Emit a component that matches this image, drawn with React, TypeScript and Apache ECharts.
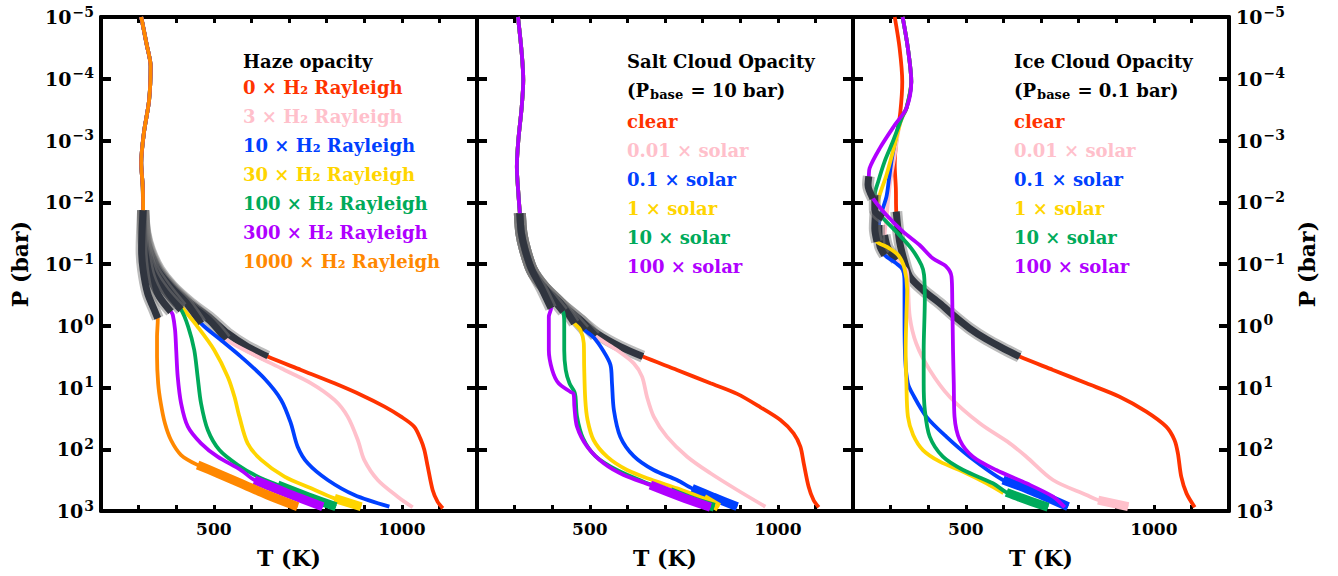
import React, { useEffect, useRef } from 'react';
import * as echarts from 'echarts';

type Pt = [number, number];

// ---------- Panel 1: haze opacity (T [K], P [bar]) ----------
const HAZE_UPPER: Pt[] = [[307, 1e-5], [321, 2.7e-5], [332, 6.3e-5], [328, 2.2e-4], [314, 7.6e-4], [307, 2.3e-3], [311, 5.6e-3], [312, 0.0135]];
const HAZE_0X: Pt[] = [[318, 0.0316], [330, 0.0593], [355, 0.125], [390, 0.233], [439, 0.434], [492, 0.759], [537, 1.33], [590, 2.18], [643, 3.16], [732, 5.2], [821, 8.55], [892, 13.2], [954, 20.4], [998, 29.6], [1033, 43.1], [1051, 70.8], [1060, 103], [1069, 191], [1082, 457], [1095, 706], [1109, 906]];
const HAZE_3X: Pt[] = [[317, 0.0316], [328, 0.0593], [352, 0.126], [392, 0.251], [440, 0.468], [490, 0.832], [532, 1.66], [599, 2.79], [679, 4.89], [759, 8.55], [821, 15.9], [856, 29.6], [883, 70.8], [900, 149], [936, 315], [989, 586], [1029, 871]];
const HAZE_10X: Pt[] = [[316, 0.0316], [325, 0.0593], [350, 0.126], [390, 0.251], [430, 0.447], [466, 0.914], [519, 1.7], [572, 3.16], [634, 7.1], [679, 15.9], [705, 38.0], [723, 90.8], [750, 169], [803, 315], [874, 551], [967, 851]];
const HAZE_30X: Pt[] = [[315, 0.0316], [322, 0.0593], [342, 0.126], [375, 0.251], [415, 0.502], [457, 1.04], [501, 2.47], [537, 6.67], [555, 14.1], [568, 29.6], [590, 80.2], [626, 149], [688, 278], [759, 430], [821, 624], [892, 851]];
const HAZE_100X: Pt[] = [[314, 0.0316], [320, 0.0593], [338, 0.141], [370, 0.282], [413, 0.55], [432, 1.04], [448, 2.47], [457, 6.67], [466, 18.0], [484, 48.8], [515, 103], [564, 180], [617, 278], [670, 379], [750, 586], [825, 851]];
const HAZE_300X: Pt[] = [[312, 0.0316], [316, 0.0593], [330, 0.16], [355, 0.338], [386, 0.592], [391, 0.67], [397, 1.17], [400, 2.47], [404, 6.67], [413, 18.0], [431, 43.1], [466, 80.2], [510, 132], [572, 217], [608, 315], [696, 518], [790, 851]];
const HAZE_1000X: Pt[] = [[309, 0.0316], [308, 0.0593], [312, 0.125], [324, 0.298], [342, 0.556], [351, 0.759], [351, 0.81], [349, 1.5], [349, 3.16], [352, 8.55], [359, 18.0], [370, 38.0], [386, 70.8], [413, 124], [457, 180], [510, 245], [572, 356], [643, 551], [723, 851]];
// convective (gray) pressure ranges and start of deep thick segment
const HAZE_GRAY_TOP = 0.0135;
const HAZE_GRAY_BOTTOM = [3.16, 1.66, 0.914, 0.502, 0.55, 0.592, 0.759];
const HAZE_THICK_FROM = [null, null, null, 624, 379, 315, 180];
const HAZE_TITLE = 'Haze opacity';
const HAZE_LABELS = ['0 × H₂ Rayleigh', '3 × H₂ Rayleigh', '10 × H₂ Rayleigh', '30 × H₂ Rayleigh', '100 × H₂ Rayleigh', '300 × H₂ Rayleigh', '1000 × H₂ Rayleigh'];

// ---------- Panel 2: salt clouds ----------
const SALT_UPPER: Pt[] = [[309, 1e-5], [319, 3.87e-5], [323, 1.05e-4], [319, 2.82e-4], [310, 9.8e-4], [306, 2.65e-3], [310, 7.2e-3], [314, 0.0151]];
const SALT_CLEAR: Pt[] = [[318, 0.0316], [328, 0.0593], [346, 0.125], [377, 0.233], [422, 0.434], [475, 0.807], [519, 1.33], [581, 2.18], [641, 3.16], [732, 5.2], [821, 8.55], [892, 12.7], [954, 20.9], [1007, 33.6], [1042, 55.2], [1060, 90.8], [1069, 169], [1082, 404], [1095, 664], [1109, 871]];
const SALT_001: Pt[] = [[318, 0.0316], [328, 0.0593], [346, 0.125], [377, 0.233], [422, 0.434], [475, 0.807], [515, 1.47], [572, 2.47], [617, 4.06], [639, 6.67], [652, 14.1], [670, 29.6], [705, 62.5], [759, 132], [821, 245], [892, 457], [967, 851]];
const SALT_01: Pt[] = [[318, 0.0316], [328, 0.0593], [346, 0.125], [377, 0.233], [422, 0.434], [486, 1.17], [510, 1.54], [537, 2.62], [555, 4.32], [559, 8.55], [564, 23.1], [581, 62.5], [617, 129], [670, 217], [732, 315], [772, 430], [829, 600], [892, 851]];
const SALT_1: Pt[] = [[318, 0.0316], [328, 0.0593], [346, 0.125], [377, 0.233], [422, 0.434], [459, 0.914], [475, 1.17], [484, 1.92], [485, 4.59], [488, 15.9], [494, 33.6], [510, 70.8], [546, 132], [599, 217], [661, 307], [732, 430], [803, 624], [843, 871]];
const SALT_10: Pt[] = [[318, 0.0316], [328, 0.0593], [346, 0.125], [377, 0.233], [429, 0.592], [432, 0.914], [432, 2.47], [436, 5.2], [446, 8.55], [459, 11.7], [462, 14.1], [466, 29.6], [482, 66.5], [515, 129], [572, 217], [643, 335], [714, 486], [776, 679], [831, 871]];
const SALT_100: Pt[] = [[318, 0.0316], [328, 0.0593], [346, 0.125], [372, 0.25], [397, 0.522], [391, 0.713], [391, 2.47], [400, 5.2], [417, 8.55], [448, 11.7], [457, 12.7], [459, 20.4], [466, 43.1], [493, 90.8], [537, 169], [590, 261], [661, 379], [741, 586], [821, 871]];
const SALT_GRAY_TOP = 0.0151;
const SALT_GRAY_BOTTOM = [3.16, 1.47, 1.17, 0.914, 0.592, 0.522];
const SALT_THICK_FROM = [null, null, 430, 624, 486, 379];
const SALT_TITLE = 'Salt Cloud Opacity';
const SALT_PBASE = '10 bar';
const CLOUD_LABELS = ['clear', '0.01 × solar', '0.1 × solar', '1 × solar', '10 × solar', '100 × solar'];

// ---------- Panel 3: ice clouds ----------
const ICE_CLEAR: Pt[] = [[311, 1e-5], [324, 3.22e-5], [331, 1.12e-4], [326, 3.41e-4], [315, 1.04e-3], [311, 2.49e-3], [314, 5.96e-3], [315, 0.0142], [324, 0.0435], [337, 0.0918], [351, 0.16], [386, 0.264], [431, 0.434], [466, 0.67], [510, 1.1], [555, 1.66], [599, 2.32], [643, 3.16], [732, 5.2], [821, 8.55], [909, 14.1], [980, 24.6], [1033, 43.1], [1055, 70.8], [1064, 116], [1073, 278], [1087, 518], [1109, 871]];
const ICE_UPPER: Pt[] = [[332, 1e-5], [346, 3.22e-5], [355, 1.12e-4], [342, 3.02e-4]];
const ICE_001: Pt[] = [[324, 5.61e-4], [311, 1.72e-3], [299, 4.65e-3], [293, 9.8e-3], [289, 0.0182], [284, 0.034], [293, 0.0558], [315, 0.0863], [342, 0.125], [346, 0.206], [351, 0.713], [368, 1.92], [404, 5.2], [457, 14.1], [537, 38.0], [617, 80.2], [661, 132], [732, 315], [821, 551], [852, 664], [932, 851]];
const ICE_01: Pt[] = [[324, 4.95e-4], [305, 1.72e-3], [296, 4.1e-3], [289, 8.13e-3], [278, 0.0134], [269, 0.0234], [271, 0.0493], [284, 0.0716], [315, 0.0977], [333, 0.125], [337, 0.206], [337, 0.713], [339, 3.58], [346, 8.55], [360, 13.2], [395, 29.6], [448, 62.5], [510, 132], [599, 315], [670, 457], [772, 851]];
const ICE_1: Pt[] = [[329, 4.38e-4], [306, 1.52e-3], [289, 3.62e-3], [271, 7.64e-3], [260, 0.0142], [258, 0.0265], [264, 0.0436], [289, 0.0525], [320, 0.0716], [337, 0.118], [344, 0.264], [342, 0.713], [340, 2.47], [342, 8.55], [346, 29.6], [360, 58.7], [386, 103], [431, 159], [493, 231], [555, 356], [600, 513]];
const ICE_10: Pt[] = [[333, 3.86e-4], [306, 1.04e-3], [284, 2.2e-3], [267, 4.65e-3], [258, 7.64e-3], [258, 0.0134], [280, 0.0182], [315, 0.03], [355, 0.0558], [382, 0.104], [389, 0.151], [391, 0.383], [388, 2.47], [388, 8.55], [391, 23.1], [404, 62.5], [439, 132], [493, 217], [572, 356], [608, 500], [643, 600], [719, 871]];
const ICE_100: Pt[] = [[311, 5.62e-4], [271, 1.34e-3], [244, 2.82e-3], [242, 3.8e-3], [240, 5.26e-3], [253, 8.65e-3], [289, 0.0161], [333, 0.03], [377, 0.0493], [412, 0.081], [448, 0.11], [462, 0.16], [464, 0.383], [466, 2.47], [468, 8.55], [470, 29.6], [484, 70.8], [519, 132], [581, 217], [661, 356], [732, 586], [763, 871]];
const ICE_GRAY: [number, number][] = [[0.0142, 3.16], [0.034, 0.0863], [0.0234, 0.0716], [0.0142, 0.0436], [7.64e-3, 0.0182], [3.8e-3, 8.65e-3]];
const ICE_THICK_FROM = [null, 664, 315, null, 500, null];
const ICE_TITLE = 'Ice Cloud Opacity';
const ICE_PBASE = '0.1 bar';

const X_TICKS_LABELED = [500, 1000];

// ---------- styles ----------
const FONT = "'DejaVu Serif', serif";
const COL = ['#ff3300', '#ffc0cb', '#0040ff', '#ffd500', '#00aa5a', '#b000ff', '#ff8800'];
const GRID_LEFT = 101;
const GRID_W = 376;
const GRID_TOP = 17;
const GRID_H = 494;

type Curve = { color: string; pts: Pt[]; gray: [number, number]; thick: number | null };

function buildCurves(): Curve[][] {
  const haze = [HAZE_0X, HAZE_3X, HAZE_10X, HAZE_30X, HAZE_100X, HAZE_300X, HAZE_1000X].map((lw, i) => ({
    color: COL[i], pts: HAZE_UPPER.concat(lw), gray: [HAZE_GRAY_TOP, HAZE_GRAY_BOTTOM[i]] as [number, number], thick: HAZE_THICK_FROM[i],
  }));
  const salt = [SALT_CLEAR, SALT_001, SALT_01, SALT_1, SALT_10, SALT_100].map((lw, i) => ({
    color: COL[i], pts: SALT_UPPER.concat(lw), gray: [SALT_GRAY_TOP, SALT_GRAY_BOTTOM[i]] as [number, number], thick: SALT_THICK_FROM[i],
  }));
  const ice = [ICE_CLEAR, ICE_001, ICE_01, ICE_1, ICE_10, ICE_100].map((lw, i) => ({
    color: COL[i], pts: i === 0 ? lw : ICE_UPPER.concat(lw), gray: ICE_GRAY[i], thick: ICE_THICK_FROM[i],
  }));
  return [haze, salt, ice];
}

function yLabel(v: number) {
  const e = Math.round(Math.log10(v));
  return `{b|10}{s|${e < 0 ? '\u2212' + -e : String(e)}}`;
}

const Y_RICH = {
  b: { fontFamily: FONT, fontWeight: 'bold', fontSize: 19, color: '#000' },
  s: { fontFamily: FONT, fontWeight: 'bold', fontSize: 14, color: '#000', padding: [0, 0, 11, 1] },
};

function legendItem(x: number, y: number, text: string, color: string) {
  return {
    type: 'text', x, y, silent: true,
    style: { text, fill: color, fontFamily: FONT, fontWeight: 'bold', fontSize: 18, verticalAlign: 'middle', align: 'left' },
  };
}

function pbaseItem(x: number, y: number, val: string) {
  const tok = { fontFamily: FONT, fontWeight: 'bold', fontSize: 18, fill: '#000' };
  return {
    type: 'text', x, y, silent: true,
    style: {
      text: `{t|(P}{sub|base}{t| = ${val})}`, fill: '#000', verticalAlign: 'middle', align: 'left',
      rich: { t: tok, sub: { ...tok, fontSize: 13, padding: [9, 1, 0, 1] } },
    },
  };
}

function buildOption() {
  const panels = buildCurves();
  const grid: any[] = [];
  const xAxis: any[] = [];
  const yAxis: any[] = [];
  const series: any[] = [];
  const lineAx = { show: true, onZero: false, lineStyle: { color: '#000', width: 4 } };
  panels.forEach((curves, p) => {
    grid.push({ left: GRID_LEFT + p * GRID_W, top: GRID_TOP, width: GRID_W, height: GRID_H, containLabel: false });
    ['bottom', 'top'].forEach((pos) => {
      xAxis.push({
        type: 'value', gridIndex: p, position: pos, min: 200, max: 1200, interval: 100,
        axisLine: lineAx, splitLine: { show: false },
        axisTick: { show: true, inside: true, length: 6, lineStyle: { color: '#000', width: 3 } },
        axisLabel: {
          show: pos === 'bottom', margin: 9, color: '#000', fontFamily: FONT, fontWeight: 'bold', fontSize: 17,
          formatter: (v: number) => (X_TICKS_LABELED.includes(v) ? String(v) : ''),
        },
        name: pos === 'bottom' ? 'T (K)' : '', nameLocation: 'middle', nameGap: 36,
        nameTextStyle: { color: '#000', fontFamily: FONT, fontWeight: 'bold', fontSize: 22 },
      });
    });
    ['left', 'right'].forEach((pos) => {
      const showLab = (p === 0 && pos === 'left') || (p === 2 && pos === 'right');
      yAxis.push({
        type: 'log', logBase: 10, gridIndex: p, position: pos, min: 1e-5, max: 1e3, inverse: true,
        axisLine: lineAx, splitLine: { show: false }, minorTick: { show: false },
        axisTick: { show: true, inside: true, length: 10, lineStyle: { color: '#000', width: 4 } },
        axisLabel: { show: showLab, margin: 7, formatter: yLabel, rich: Y_RICH },
        name: showLab ? 'P (bar)' : '', nameLocation: 'middle', nameGap: pos === 'left' ? 70 : 67,
        nameTextStyle: { color: '#000', fontFamily: FONT, fontWeight: 'bold', fontSize: 22 },
      });
    });
    const xi = p * 2;
    const yi = p * 2;
    curves.forEach((c) => {
      const base = { type: 'line', xAxisIndex: xi, yAxisIndex: yi, symbol: 'none', showSymbol: false, smooth: 0.3, silent: true, animation: false };
      series.push({ ...base, data: c.pts, lineStyle: { color: c.color, width: 3.8 } });
      const g = c.pts.filter((q) => q[1] >= c.gray[0] && q[1] <= c.gray[1]);
      series.push({ ...base, data: g, lineStyle: { color: 'rgba(120,120,120,0.5)', width: 12 } });
      series.push({ ...base, data: g, lineStyle: { color: '#30353f', width: 7 } });
      if (c.thick != null) {
        const t = c.pts.filter((q) => q[1] >= (c.thick as number));
        series.push({ ...base, data: t, lineStyle: { color: c.color, width: 9 } });
      }
    });
  });

  const graphic: any[] = [];
  const L1 = 243;
  graphic.push(legendItem(L1, 61, HAZE_TITLE, '#000'));
  HAZE_LABELS.forEach((t, i) => graphic.push(legendItem(L1, 87 + i * 29, t, COL[i])));
  const L2 = 627;
  const L3 = 1014;
  graphic.push(legendItem(L2, 61, SALT_TITLE, '#000'));
  graphic.push(pbaseItem(L2, 90, SALT_PBASE));
  graphic.push(legendItem(L3, 61, ICE_TITLE, '#000'));
  graphic.push(pbaseItem(L3, 90, ICE_PBASE));
  CLOUD_LABELS.forEach((t, i) => {
    graphic.push(legendItem(L2, 121 + i * 29, t, COL[i]));
    graphic.push(legendItem(L3, 121 + i * 29, t, COL[i]));
  });

  return { animation: false, backgroundColor: '#fff', grid, xAxis, yAxis, series, graphic };
}

export default function App() {
  const ref = useRef<HTMLDivElement>(null);
  useEffect(() => {
    document.body.style.margin = '0';
    const chart = echarts.init(ref.current as HTMLDivElement, null, { renderer: 'svg' });
    chart.setOption(buildOption() as any);
    return () => chart.dispose();
  }, []);
  return <div ref={ref} style={{ width: 1338, height: 576 }} />;
}
